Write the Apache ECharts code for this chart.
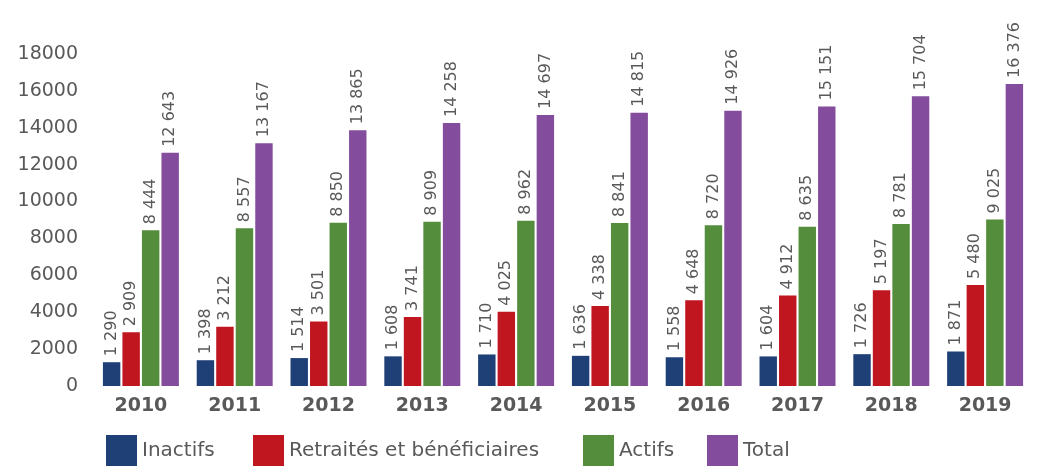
<!DOCTYPE html>
<html>
<head>
<meta charset="utf-8">
<script src="https://cdn.jsdelivr.net/npm/echarts@6/dist/echarts.min.js"></script>
<style>
  html, body { margin: 0; padding: 0; background: #fff; }
  #chart { width: 1037px; height: 466px; }
</style>
</head>
<body>
<div id="chart"></div>
<script>
const years = ["2010", "2011", "2012", "2013", "2014", "2015", "2016", "2017", "2018", "2019"]
const inactifs = [1290, 1398, 1514, 1608, 1710, 1636, 1558, 1604, 1726, 1871]
const retraites = [2909, 3212, 3501, 3741, 4025, 4338, 4648, 4912, 5197, 5480]
const actifs = [8444, 8557, 8850, 8909, 8962, 8841, 8720, 8635, 8781, 9025]
const total = [12643, 13167, 13865, 14258, 14697, 14815, 14926, 15151, 15704, 16376]

const seriesNames = ["Inactifs", "Retraités et bénéficiaires", "Actifs", "Total"]
const seriesColors = ["#1f3f77", "#c0161f", "#548d3c", "#844c9c"]
const legendLeft = [106, 253, 583, 707]

const textColor = "#595959"
const fontFamily = "DejaVu Sans"

const formatNum = (v) => String(v).replace(/\B(?=(\d{3})+(?!\d))/g, " ")

const makeSeries = (name, data, color) => ({
  name: name,
  type: "bar",
  data: data,
  barGap: "12%",
  barCategoryGap: "19%",
  itemStyle: { color: color },
  label: {
    show: true,
    position: "top",
    rotate: 90,
    align: "left",
    verticalAlign: "middle",
    distance: 6,
    color: textColor,
    fontFamily: fontFamily,
    fontSize: 16,
    formatter: (p) => formatNum(p.value)
  }
})

// one legend per item so each can sit where it does in the original
const legends = seriesNames.map((name, i) => ({
  data: [name],
  top: 435,
  left: legendLeft[i],
  padding: 0,
  itemWidth: 31,
  itemHeight: 31,
  icon: "rect",
  textStyle: { color: textColor, fontSize: 20, fontFamily: fontFamily }
}))

const chart = echarts.init(document.getElementById("chart"))

const option = {
  animation: false,
  textStyle: { fontFamily: fontFamily },
  grid: {
    left: 94,
    right: 5,
    top: 54,
    bottom: 80
  },
  legend: legends,
  xAxis: {
    type: "category",
    data: years,
    axisLine: { show: false },
    axisTick: { show: false },
    axisLabel: {
      color: textColor,
      fontSize: 19,
      fontWeight: "bold",
      fontFamily: fontFamily,
      margin: 11
    }
  },
  yAxis: {
    type: "value",
    min: 0,
    max: 18000,
    interval: 2000,
    splitLine: { show: false },
    axisLine: { show: false },
    axisTick: { show: false },
    axisLabel: {
      color: textColor,
      fontSize: 19,
      fontFamily: fontFamily,
      margin: 16,
      formatter: (v) => String(v)
    }
  },
  series: [
    makeSeries(seriesNames[0], inactifs, seriesColors[0]),
    makeSeries(seriesNames[1], retraites, seriesColors[1]),
    makeSeries(seriesNames[2], actifs, seriesColors[2]),
    makeSeries(seriesNames[3], total, seriesColors[3])
  ]
}

chart.setOption(option)
</script>
</body>
</html>
